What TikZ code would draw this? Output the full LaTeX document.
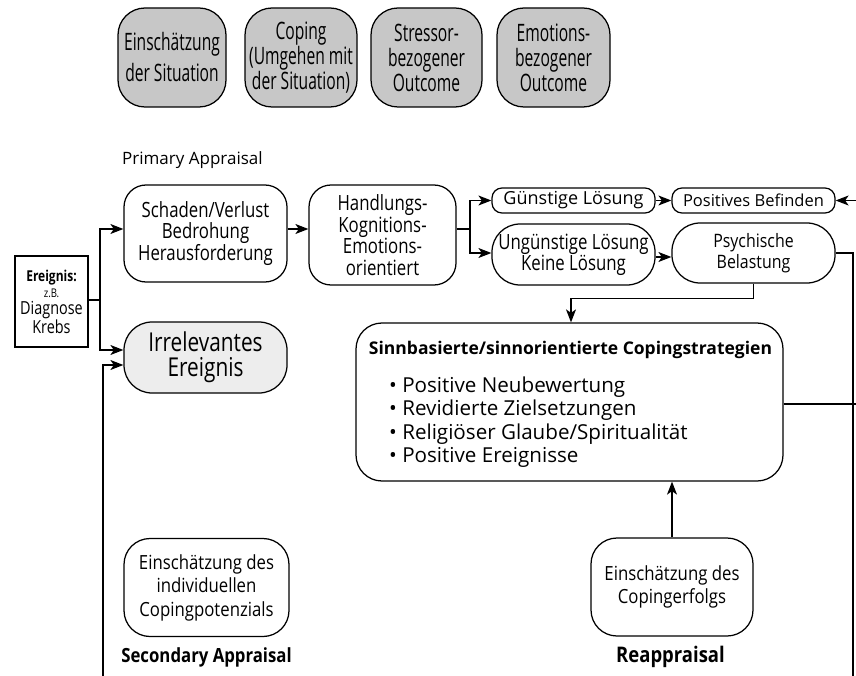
\documentclass[tikz,border=0pt]{standalone}
\usepackage{fontspec}
\setmainfont{Open Sans}
\newfontfamily\fsA[FakeStretch=0.65]{Open Sans}
\newfontfamily\fsB[FakeStretch=0.8]{Open Sans}
\newfontfamily\fsC[FakeStretch=0.86]{Open Sans}
\usetikzlibrary{arrows.meta}
\tikzset{
  base/.style={draw, line width=1.25pt, inner sep=0pt, align=center},
  headbox/.style={base, rounded corners=27pt, fill=black!22, minimum height=99pt,
    font=\fsA\fontsize{24}{25}\selectfont},
  midbox/.style={base, rounded corners=22pt, font=\fsB\fontsize{21}{21.5}\selectfont},
  smallbox/.style={base, rounded corners=10pt, minimum width=163pt, minimum height=25pt,
    font=\fontsize{18}{21}\selectfont},
  lowbox/.style={base, rounded corners=26pt, minimum height=98pt,
    font=\fsC\fontsize{19.5}{23.5}\selectfont},
  conn/.style={line width=1.25pt},
  arr/.style={conn, -{Stealth[length=13pt,width=10pt,inset=3.5pt]}},
  lbl/.style={inner sep=0pt}
}
\begin{document}
\begin{tikzpicture}[x=1pt,y=-1pt]
\useasboundingbox (0,0) rectangle (856,676);

% header boxes
\node[headbox, minimum width=108pt, font=\fsA\fontsize{24}{31}\selectfont] (h1) at (172,57.5) {Einschätzung\\der Situation};
\node[headbox, minimum width=112pt] (h2) at (301,57.5) {Coping\\(Umgehen mit\\der Situation)};
\node[headbox, minimum width=111pt] (h3) at (426.5,57.5) {Stressor-\\bezogener\\Outcome};
\node[headbox, minimum width=113pt] (h4) at (553.5,57.5) {Emotions-\\bezogener\\Outcome};

% primary appraisal
\node[lbl, anchor=west, font=\fontsize{17}{20}\selectfont] (pa) at (122,160) {Primary Appraisal};

\node[base, minimum width=73pt, minimum height=91pt, font=\fsB\fontsize{18}{16.5}\selectfont] (ev) at (51.5,301.5)
  {{\bfseries\fontsize{15}{16.5}\selectfont Ereignis:}\\{\fontsize{12}{16.5}\selectfont z.B.}\\Diagnose\\Krebs};

\node[midbox, minimum width=163pt, minimum height=97pt] (sch) at (205.5,233.5)
  {Schaden/Verlust\\Bedrohung\\Herausforderung};
\node[midbox, minimum width=147pt, minimum height=100pt] (hk) at (382.5,235)
  {Handlungs-\\Kognitions-\\Emotions-\\orientiert};
\node[midbox, rounded corners=28pt, fill=black!7, minimum width=163pt, minimum height=71pt,
  font=\fsB\fontsize{26}{25}\selectfont] (irr) at (205.5,357.5) {Irrelevantes\\Ereignis};

\node[smallbox] (gl) at (573.5,200.5) {Günstige Lösung};
\node[smallbox, font=\fontsize{16.5}{21}\selectfont] (pb) at (753.5,200.5) {Positives Befinden};
\node[midbox, rounded corners=28pt, minimum width=163pt, minimum height=61pt,
  font=\fsB\fontsize{21}{21}\selectfont] (ul) at (573.5,254.5) {Ungünstige Lösung\\Keine Lösung};
\node[midbox, rounded corners=28pt, minimum width=163pt, minimum height=60pt,
  font=\fsC\fontsize{18.5}{21}\selectfont] (psy) at (753.5,253) {Psychische\\Belastung};

% big box
\node[base, rounded corners=26pt, minimum width=427pt, minimum height=158pt] (big) at (569.5,402) {};
\node[lbl, font=\bfseries\fontsize{17.5}{20}\selectfont] (bt) at (570.5,350) {Sinnbasierte/sinnorientierte Copingstrategien};
\node[lbl, anchor=west, align=left, font=\fontsize{20.6}{23.3}\selectfont] (bl) at (389,422)
  {• Positive Neubewertung\\• Revidierte Zielsetzungen\\• Religiöser Glaube/Spiritualität\\• Positive Ereignisse};

% bottom
\node[lowbox, minimum width=165pt] (sa) at (206.5,587.5) {Einschätzung des\\individuellen\\Copingpotenzials};
\node[lowbox, minimum width=162pt] (ra) at (672,587) {Einschätzung des\\Copingerfolgs};
\node[lbl, font=\fsC\bfseries\fontsize{19.5}{22}\selectfont] (sal) at (206.5,657) {Secondary Appraisal};
\node[lbl, font=\fsC\bfseries\fontsize{21.5}{22}\selectfont] (ral) at (670.5,657) {Reappraisal};

% coordinates for free ends
\coordinate (j1) at (100,300);
\coordinate (lb) at (103,676);
\coordinate (j2) at (470,229);
\coordinate (rb) at (853,676);
\coordinate (rt) at (856,200.5);
\coordinate (re) at (856,404);

% connectors
\draw[conn] (ev.east |- j1) -- (j1);
\draw[arr] (j1) |- ([yshift=4.5pt]sch.west);
\draw[arr] (j1) |- ([yshift=7.5pt]irr.west);
\draw[arr] (lb) |- ([yshift=-7.5pt]irr.west);
\draw[arr] ([yshift=4.5pt]sch.east) -- ([yshift=4.5pt]sch.east -| hk.west);
\draw[conn] (hk.east |- j2) -- (j2);
\draw[arr] (j2) |- (gl.west);
\draw[arr] (j2) |- ([yshift=1.5pt]ul.west);
\draw[arr] (gl.east) -- (pb.west);
\draw[arr] ([yshift=-2.5pt]ul.east) -- ([yshift=-2.5pt]ul.east -| psy.west);
\draw[arr] (psy.south) -- ++(0,15) -| ([xshift=1.5pt]big.north);
\draw[conn] (psy.east) -| (rb);
\draw[conn] ([yshift=-2pt]big.east) -- (re);
\draw[arr] (rt) -- (pb.east);
\draw[arr] (ra.north) -- (ra.north |- big.south);
\end{tikzpicture}
\end{document}
